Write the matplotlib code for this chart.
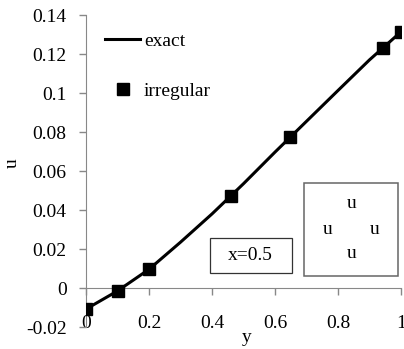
import matplotlib
matplotlib.use("Agg")
import matplotlib.pyplot as plt
from matplotlib.patches import Rectangle

# exact solution along x=0.5
y_exact = [0.0, 0.1, 0.2, 0.3, 0.4, 0.5, 0.6, 0.7, 0.8, 0.9, 1.0]
u_exact = [-0.0108, -0.0015, 0.0096, 0.0235, 0.038, 0.0535, 0.0697, 0.0855, 0.1013, 0.117, 0.1314]

# irregular grid nodes
y_irr = [0.0, 0.1, 0.2, 0.459, 0.648, 0.942, 1.0]
u_irr = [-0.0108, -0.0015, 0.0096, 0.0473, 0.0776, 0.1232, 0.1314]

x_ticks = [0, 0.2, 0.4, 0.6, 0.8, 1]
x_tick_labels = ["0", "0.2", "0.4", "0.6", "0.8", "1"]
y_ticks = [-0.02, 0, 0.02, 0.04, 0.06, 0.08, 0.1, 0.12, 0.14]
y_tick_labels = ["-0.02", "0", "0.02", "0.04", "0.06", "0.08", "0.1", "0.12", "0.14"]

plt.rcParams['font.family'] = ['Liberation Serif', 'DejaVu Serif']
fs = 14

fig = plt.figure(figsize=(4.04, 3.49), dpi=100)
ax = fig.add_axes([0.2129, 0.063, 0.7797, 0.894])

ax.plot(y_exact, u_exact, color='black', lw=2.2, label='exact', zorder=3)
ax.plot(y_irr, u_irr, ls='none', marker='s', ms=8.6, color='black',
        label='irregular', zorder=4)

ax.set_xlim(0, 1)
ax.set_ylim(-0.02, 0.14)

ax.spines['top'].set_visible(False)
ax.spines['right'].set_visible(False)
ax.spines['left'].set_color('#888888')
ax.spines['bottom'].set_color('#888888')
ax.spines['bottom'].set_position(('data', 0))

ax.set_xticks(x_ticks)
ax.set_xticklabels(x_tick_labels)
ax.set_yticks(y_ticks)
ax.set_yticklabels(y_tick_labels)
ax.tick_params(axis='both', colors='#888888', labelcolor='black',
               labelsize=fs, length=5, width=1)
ax.tick_params(axis='x', pad=14.5)
ax.tick_params(axis='y', pad=9)

# axis titles
fig.text(247 / 404, 1 - 338 / 349, 'y', fontsize=fs, ha='center', va='center')
fig.text(12 / 404, 1 - 163 / 349, 'u', fontsize=fs, ha='center', va='center',
         rotation=90)

leg = ax.legend(loc='upper left', bbox_to_anchor=(0.03, 0.975), frameon=False,
                fontsize=fs, handlelength=1.8, handletextpad=0.2,
                labelspacing=1.65, borderpad=0)

# annotation boxes
ax.add_patch(Rectangle((0.394, 0.174), 0.259, 0.110, transform=ax.transAxes,
                       fill=False, edgecolor='#333333', lw=0.9, zorder=5))
ax.text(0.521, 0.228, 'x=0.5', transform=ax.transAxes, fontsize=fs,
        ha='center', va='center')

ax.add_patch(Rectangle((0.693, 0.163), 0.298, 0.298, transform=ax.transAxes,
                       fill=False, edgecolor='#666666', lw=1.1, zorder=5))
for px, py in [(0.843, 0.396), (0.767, 0.311), (0.917, 0.311), (0.843, 0.236)]:
    ax.text(px, py, 'u', transform=ax.transAxes, fontsize=fs,
            ha='center', va='center')

fig.savefig('out.png', dpi=100)
